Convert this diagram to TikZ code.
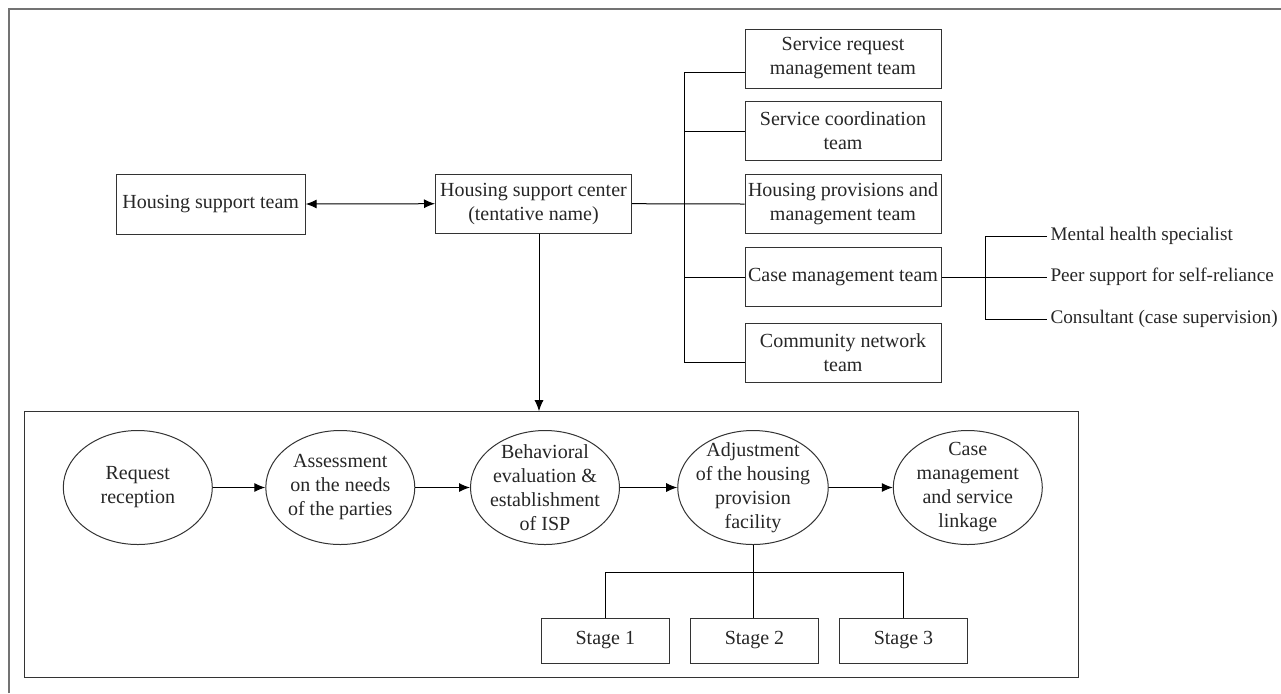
\documentclass[tikz,border=0pt]{standalone}
\usepackage{fontspec}
\setmainfont{Liberation Serif}
\usetikzlibrary{arrows.meta,positioning,shapes.geometric}

\begin{document}
\begin{tikzpicture}[x=0.5pt,y=-0.5pt,line width=0.5pt,
  >={Latex[length=5.5pt,width=4.5pt]},
  every node/.style={text=black!85, font=\fontsize{10}{12}\selectfont},
  team/.style={draw=black!80, align=center, inner sep=0pt,
    minimum width=98pt, minimum height=29.5pt},
  proc/.style={ellipse, draw=black!80, align=center, inner xsep=-2pt,
    inner ysep=-4pt, minimum width=74.5pt, minimum height=57pt},
  stagebox/.style={draw=black!80, inner sep=0pt,
    minimum width=64pt, minimum height=22.5pt},
  member/.style={anchor=west, inner xsep=1.5pt,
    font=\fontsize{9.6}{12}\selectfont}]
  \useasboundingbox (0,0) rectangle (1281,693);
  \draw[black!55, line width=1pt] (9,693) -- (9,9) -- (1281,9);

  % top row
  \node[team, minimum width=94.5pt, minimum height=30pt] (hst) at (210.7,204) {Housing support team};
  \node[team] (hsc) at (533.5,203.7) {Housing support center\\(tentative name)};
  \draw[<->] (hst.east) -- (hsc.west);

  % teams
  \node[team] (srm) at (843,58.5) {Service request\\management team};
  \node[team] (sco) at (843,131) {Service coordination\\team};
  \node[team] (hpm) at (843,204) {Housing provisions and\\management team};
  \node[team] (cmt) at (843,277) {Case management team};
  \node[team] (cnt) at (843,353) {Community network\\team};
  \coordinate (bus) at (684,0);
  \draw (hsc.east) -- (hpm.west);
  \draw (srm.west |- 0,72) -- (bus |- 0,72) -- (bus |- 0,362) -- (cnt.west |- 0,362);
  \foreach \t in {sco,cmt}
    \draw (\t.west) -- (bus |- \t.west);

  % case management members
  \node[member] (mhs) at (1047,236) {Mental health specialist};
  \node[member] (psr) at (1047,277) {Peer support for self-reliance};
  \node[member] (cons) at (1047,319) {Consultant (case supervision)};
  \coordinate (sub) at (985,0);
  \draw (cmt.east) -- (psr.west);
  \draw (mhs.west) -- (sub |- mhs.west) -- (sub |- cons.west) -- (cons.west);

  % process
  \node[draw=black!80, inner sep=0pt, minimum width=527.2pt, minimum height=133pt] (flow) at (551.5,544.7) {};
  \coordinate (down) at (539,0);
  \draw[->] (hsc.south -| down) -- (flow.north -| down);

  \node[proc] (req) at (137.8,487.5) {Request\\reception};
  \node[proc] (ass) at (340.3,487.5) {Assessment\\on the needs\\of the parties};
  \node[proc] (beh) at (545,487.5) {Behavioral\\evaluation \&\\establishment\\of ISP};
  \node[proc] (adj) at (753,487.5) {Adjustment\\of the housing\\provision\\facility};
  \node[proc] (cms) at (967.8,487.5) {Case\\management\\and service\\linkage};
  \draw[->] (req) -- (ass);
  \draw[->] (ass) -- (beh);
  \draw[->] (beh) -- (adj);
  \draw[->] (adj) -- (cms);

  % stages
  \node[stagebox] (st1) at (605.3,640.5) {Stage 1};
  \node[stagebox] (st2) at (754.5,640.5) {Stage 2};
  \node[stagebox] (st3) at (903.5,640.5) {Stage 3};
  \coordinate (br) at (0,572.7);
  \draw (adj.south) -- (adj.south |- st2.north);
  \draw (st1.north) -- (st1.north |- br) -- (st3.north |- br) -- (st3.north);
\end{tikzpicture}
\end{document}
